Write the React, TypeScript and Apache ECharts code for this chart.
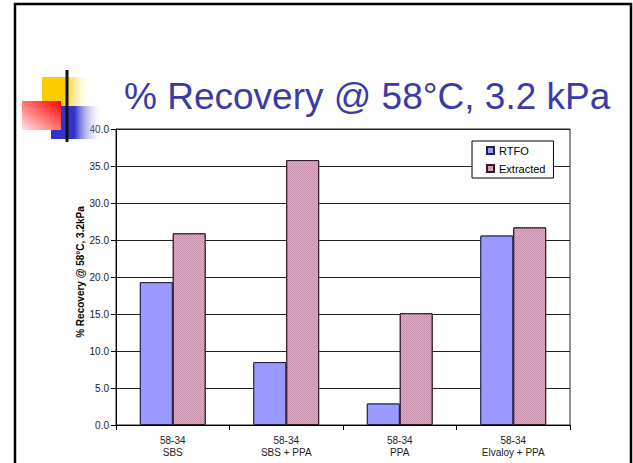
import React, { useEffect, useRef } from "react";
import * as echarts from "echarts";

// Categories (two-line labels) and recovery values per series
const categories = ["58-34\nSBS", "58-34\nSBS + PPA", "58-34\nPPA", "58-34\nElvaloy + PPA"];
const rtfoValues = [19.3, 8.5, 2.9, 25.6];
const extractedValues = [25.9, 35.8, 15.1, 26.7];
const seriesNames = ["RTFO", "Extracted"];

const titleText = "% Recovery @ 58°C, 3.2 kPa";
const yAxisTitle = "% Recovery @ 58°C, 3.2kPa";
const yMin = 0;
const yMax = 40;
const yStep = 5;

const FONT = "'Liberation Sans', Arial, sans-serif";

export default function App() {
  const ref = useRef<HTMLDivElement>(null);

  useEffect(() => {
    if (!ref.current) return;
    const chart = echarts.init(ref.current, undefined, { renderer: "svg" });

    const option: echarts.EChartsOption = {
      animation: false,
      backgroundColor: "#ffffff",
      aria: { enabled: true, decal: { show: true } },
      textStyle: { fontFamily: FONT },
      grid: {
        left: 116,
        right: 63,
        top: 129,
        bottom: 38,
        show: true,
        borderColor: "#222",
        borderWidth: 1,
        backgroundColor: "transparent",
      },
      legend: {
        orient: "vertical",
        left: 472,
        top: 141,
        padding: [4, 8, 4, 14],
        itemGap: 7,
        itemWidth: 7,
        itemHeight: 7,
        backgroundColor: "#fff",
        borderColor: "#000",
        borderWidth: 1,
        icon: "rect",
        textStyle: { fontSize: 11, color: "#000", fontFamily: FONT },
        data: seriesNames,
      },
      xAxis: {
        type: "category",
        data: categories,
        axisLine: { lineStyle: { color: "#000", width: 1 } },
        axisTick: { show: true, length: 5, interval: 0, lineStyle: { color: "#000" } },
        axisLabel: {
          interval: 0,
          margin: 9,
          fontSize: 10,
          lineHeight: 12,
          color: "#222",
          fontFamily: FONT,
        },
      },
      yAxis: {
        type: "value",
        min: yMin,
        max: yMax,
        interval: yStep,
        axisLine: { show: true, lineStyle: { color: "#000", width: 1 } },
        axisTick: { show: true, length: 5, lineStyle: { color: "#000" } },
        splitLine: { show: true, lineStyle: { color: "#222", width: 1 } },
        axisLabel: {
          fontSize: 10,
          color: "#222",
          margin: 7,
          fontFamily: FONT,
          formatter: (v: number) => v.toFixed(1),
        },
      },
      series: [
        {
          name: seriesNames[0],
          type: "bar",
          data: rtfoValues,
          barGap: "0%",
          barCategoryGap: "42%",
          itemStyle: {
            color: "#9999ff",
            borderColor: "#222244",
            borderWidth: 1,
            // plain fill: the pattern layer uses the same colour
            decal: {
              symbol: "rect",
              symbolSize: 1,
              color: "#9999ff",
              dashArrayX: [1, 0],
              dashArrayY: [1, 0],
            },
          },
        },
        {
          name: seriesNames[1],
          type: "bar",
          data: extractedValues,
          barGap: "0%",
          barCategoryGap: "42%",
          itemStyle: {
            color: "#cc96b2",
            borderColor: "#331a26",
            borderWidth: 1,
            // fine checkered texture
            decal: {
              symbol: "rect",
              symbolSize: 1,
              color: "#d7a6bf",
              dashArrayX: [
                [1, 1],
                [0, 1, 1, 0],
              ],
              dashArrayY: [1, 0],
              rotation: 0,
            },
          },
        },
      ],
      graphic: [
        // slide frame
        {
          type: "polyline",
          z: 100,
          shape: { points: [[15, 470], [15, 4], [631, 4], [631, 470]] },
          style: { stroke: "#000", lineWidth: 2.5, fill: "none" },
        },
        // decorative squares
        {
          type: "rect",
          z: 90,
          shape: { x: 42, y: 77, width: 50, height: 29 },
          style: {
            fill: new echarts.graphic.LinearGradient(0, 0, 1, 0, [
              { offset: 0, color: "#ffcc00" },
              { offset: 0.45, color: "#ffcc00" },
              { offset: 1, color: "rgba(255,255,255,0)" },
            ]),
          },
        },
        {
          type: "rect",
          z: 91,
          shape: { x: 51, y: 106, width: 52, height: 33 },
          style: {
            fill: new echarts.graphic.LinearGradient(0, 0, 1, 0, [
              { offset: 0, color: "#3333cc" },
              { offset: 0.45, color: "#3333cc" },
              { offset: 1, color: "rgba(255,255,255,0)" },
            ]),
          },
        },
        {
          type: "rect",
          z: 92,
          shape: { x: 22, y: 101, width: 39, height: 29 },
          style: {
            fill: new echarts.graphic.LinearGradient(1, 0, 0, 1, [
              { offset: 0, color: "#ff0000" },
              { offset: 1, color: "#ffe4e4" },
            ]),
          },
        },
        // cross lines
        {
          type: "line",
          z: 95,
          shape: { x1: 67, y1: 70, x2: 67, y2: 142 },
          style: { stroke: "#111", lineWidth: 3 },
        },
        {
          type: "line",
          z: 95,
          shape: { x1: 44, y1: 124, x2: 612, y2: 124 },
          style: {
            stroke: new echarts.graphic.LinearGradient(0, 0, 1, 0, [
              { offset: 0, color: "#111" },
              { offset: 0.5, color: "#555" },
              { offset: 1, color: "#aaa" },
            ]),
            lineWidth: 3,
          },
        },
        // slide title
        {
          type: "text",
          z: 96,
          x: 124,
          y: 115,
          style: {
            text: titleText,
            fill: "#3a3aa8",
            font: `37px ${FONT}`,
            textAlign: "left",
            textVerticalAlign: "bottom",
          } as any,
        },
        // value axis title
        {
          type: "text",
          z: 96,
          x: 80,
          y: 272,
          rotation: Math.PI / 2,
          style: {
            text: yAxisTitle,
            fill: "#000",
            font: `bold 10px ${FONT}`,
            textAlign: "center",
            textVerticalAlign: "middle",
          } as any,
        },
      ],
    };

    chart.setOption(option);
    return () => chart.dispose();
  }, []);

  return (
    <div
      ref={ref}
      style={{ position: "fixed", left: 0, top: 0, width: 633, height: 463 }}
    />
  );
}
